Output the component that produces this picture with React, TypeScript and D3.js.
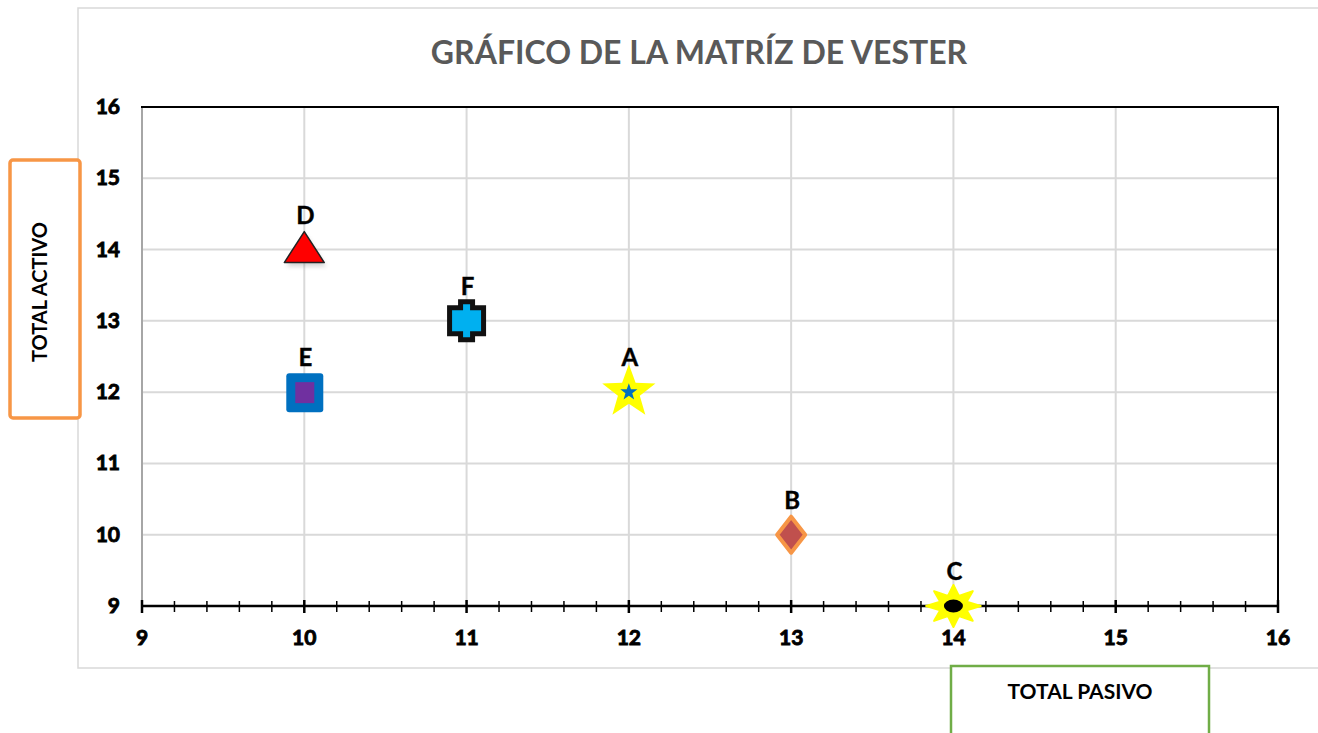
import React from 'react';
import * as d3 from 'd3';

// Vester matrix: each problem plotted by its total passive (x) and total active (y)
const labels = ['A', 'B', 'C', 'D', 'E', 'F'];
const pasivo = [12, 13, 14, 10, 10, 11];
const activo = [12, 10, 9, 14, 12, 13];
const axisTicks = [9, 10, 11, 12, 13, 14, 15, 16];

const W = 1318;
const H = 733;
const FONT = 'Lato, "Open Sans", sans-serif';

const x = d3.scaleLinear().domain([9, 16]).range([142, 1278]);
const y = d3.scaleLinear().domain([9, 16]).range([606, 107]);

// n-pointed star path around (0,0)
const starPath = (n: number, ro: number, ri: number, sx = 1) => {
  const pts: [number, number][] = [];
  for (let i = 0; i < n * 2; i++) {
    const a = (Math.PI * i) / n - Math.PI / 2;
    const r = i % 2 === 0 ? ro : ri;
    pts.push([Math.cos(a) * r * sx, Math.sin(a) * r]);
  }
  return d3.line()(pts) + 'Z';
};

const Marker = ({ k }: { k: string }) => {
  switch (k) {
    case 'A':
      return (
        <g>
          <path d={starPath(5, 28, 11.5)} fill="#FFFF00" />
          <path d={starPath(5, 9, 3.6)} fill="#0070C0" />
        </g>
      );
    case 'B':
      return (
        <path d="M0,-18 L14,0 L0,18 L-14,0 Z" fill="#C0504D" stroke="#F79646" strokeWidth={4} strokeLinejoin="round" />
      );
    case 'C':
      return (
        <g>
          <path d={starPath(8, 21, 11, 1.3)} fill="#FFFF00" stroke="#FFFF00" strokeWidth={2} strokeLinejoin="round" />
          <ellipse cx={0} cy={0} rx={9.5} ry={6.5} fill="#000" />
        </g>
      );
    case 'D':
      return (
        <g>
          <path d="M0,-18 L20,13 L-20,13 Z" fill="#888" opacity={0.35} transform="translate(2,4)" style={{ filter: 'blur(2px)' }} />
          <path d="M0,-18 L20,13 L-20,13 Z" fill="#FF0000" stroke="#222" strokeWidth={1.5} strokeLinejoin="round" />
        </g>
      );
    case 'E':
      return (
        <g>
          <rect x={-18} y={-19} width={37} height={39} rx={3} fill="#0070C0" />
          <rect x={-9} y={-10} width={19} height={21} fill="#7030A0" />
        </g>
      );
    default:
      return (
        <path
          d="M-6,-19 H6 V-13 H17 V13 H6 V19 H-6 V13 H-17 V-13 H-6 Z"
          fill="#00B0F0"
          stroke="#111"
          strokeWidth={5}
        />
      );
  }
};

export default function App() {
  const minor = d3.range(9, 16.001, 0.2).filter(v => Math.abs(v - Math.round(v)) > 0.01);
  return (
    <div style={{ position: 'fixed', left: 0, top: 0 }}>
      <svg width={W} height={H} style={{ display: 'block', background: '#fff' }}>
        {/* chart frame */}
        <rect x={78} y={8} width={1300} height={660} fill="#fff" stroke="#d9d9d9" strokeWidth={1.5} />

        <text x={699} y={64} textAnchor="middle" fontFamily={FONT} fontWeight={700} fontSize={32} fill="#595959">
          GRÁFICO DE LA MATRÍZ DE VESTER
        </text>

        {/* grid */}
        {axisTicks.map(t => (
          <line key={'gx' + t} x1={x(t)} x2={x(t)} y1={y(16)} y2={y(9)} stroke="#d9d9d9" strokeWidth={2} />
        ))}
        {axisTicks.map(t => (
          <line key={'gy' + t} x1={x(9)} x2={x(16)} y1={y(t)} y2={y(t)} stroke="#d9d9d9" strokeWidth={2} />
        ))}
        <line x1={x(9)} x2={x(9)} y1={y(16)} y2={y(9)} stroke="#a6a6a6" strokeWidth={2} />
        <line x1={x(9) - 1} x2={x(16) + 1} y1={y(16)} y2={y(16)} stroke="#000" strokeWidth={2} />
        <line x1={x(16)} x2={x(16)} y1={y(16)} y2={y(9)} stroke="#000" strokeWidth={2} />

        {/* x axis */}
        <line x1={x(9)} x2={x(16)} y1={y(9)} y2={y(9)} stroke="#000" strokeWidth={2.5} />
        {minor.map(t => (
          <line key={'mt' + t} x1={x(t)} x2={x(t)} y1={y(9) - 5} y2={y(9) + 6} stroke="#000" strokeWidth={1.5} />
        ))}
        {axisTicks.map(t => (
          <line key={'Mt' + t} x1={x(t)} x2={x(t)} y1={y(9) - 6} y2={y(9) + 7} stroke="#000" strokeWidth={2.5} />
        ))}
        {axisTicks.map(t => (
          <text key={'xl' + t} x={x(t)} y={645} textAnchor="middle" fontFamily={FONT} fontWeight={700} fontSize={21}
            fill="#000" stroke="#000" strokeWidth={0.9}>
            {t}
          </text>
        ))}
        {axisTicks.map(t => (
          <text key={'yl' + t} x={120} y={y(t) + 7} textAnchor="end" fontFamily={FONT} fontWeight={700} fontSize={21}
            fill="#000" stroke="#000" strokeWidth={0.9}>
            {t}
          </text>
        ))}

        {/* points */}
        {labels.map((k, i) => (
          <g key={k} transform={`translate(${x(pasivo[i])},${y(activo[i])})`}>
            <Marker k={k} />
            <text x={1} y={-26} textAnchor="middle" fontFamily={FONT} fontWeight={700} fontSize={24} fill="#000"
              stroke="#000" strokeWidth={0.4}>
              {k}
            </text>
          </g>
        ))}

        {/* axis title boxes */}
        <rect x={10} y={160} width={70} height={258} rx={3} fill="#fff" stroke="#F79646" strokeWidth={3.5} />
        <text
          transform="translate(47,292) rotate(-90)"
          textAnchor="middle"
          fontFamily={FONT}
          fontWeight={700}
          fontSize={20}
          fill="#000"
        >
          TOTAL ACTIVO
        </text>
        <rect x={951} y={666} width={258} height={80} fill="#fff" stroke="#70AD47" strokeWidth={2.5} />
        <text x={1080} y={699} textAnchor="middle" fontFamily={FONT} fontWeight={700} fontSize={21} fill="#000">
          TOTAL PASIVO
        </text>
      </svg>
    </div>
  );
}
